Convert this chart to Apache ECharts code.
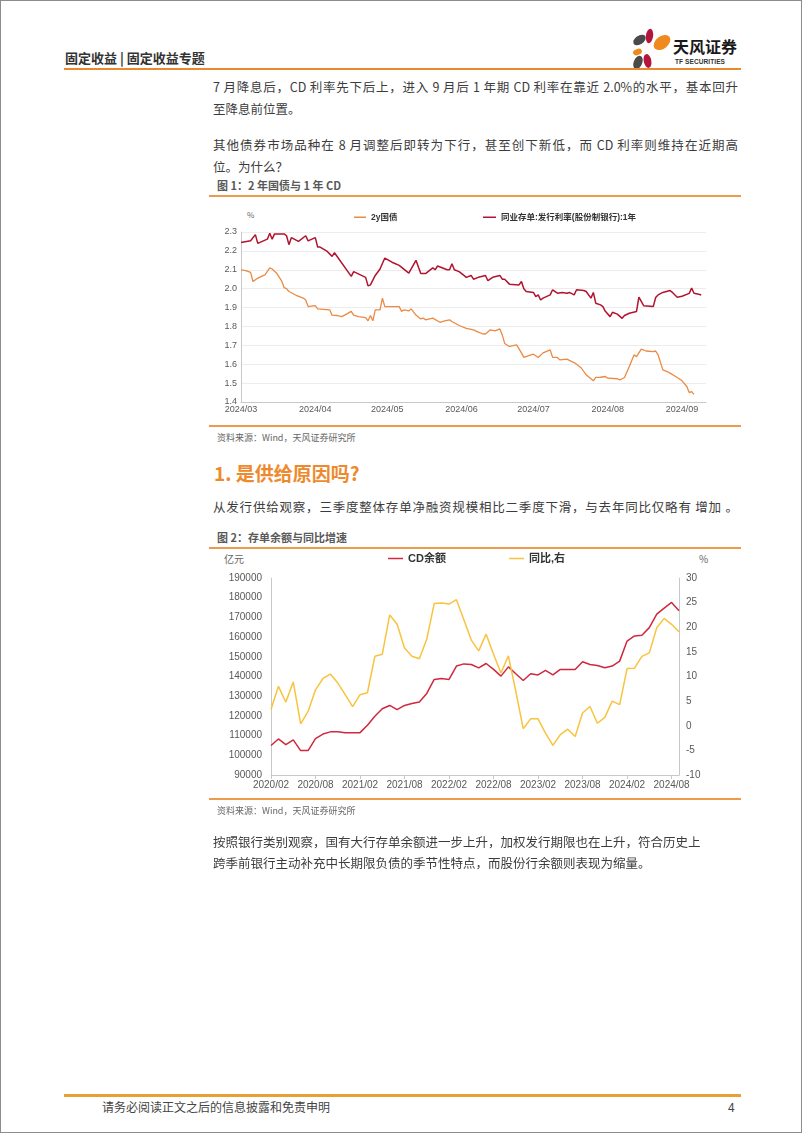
<!DOCTYPE html>
<html><head><meta charset="utf-8">
<script src="https://cdn.jsdelivr.net/npm/echarts@6/dist/echarts.min.js"></script>
<style>
html,body{margin:0;padding:0;background:#fff;}
#page{position:relative;width:802px;height:1133px;box-sizing:border-box;border:1px solid #8c8c8c;overflow:hidden;font-family:"Noto Sans CJK SC","Noto Sans",sans-serif;color:#3c3c3c;background:#fff;}
.t{position:absolute;white-space:nowrap;}
.p{position:absolute;left:212px;width:525px;font-size:12.5px;line-height:22px;text-align:justify;text-align-last:justify;color:#3c3c3c;}
.pl{position:absolute;left:212px;font-size:12.5px;line-height:22px;white-space:nowrap;color:#3c3c3c;}
.hl{position:absolute;background:#E8892B;}
.ft{position:absolute;left:216px;font-size:11px;line-height:16px;font-weight:bold;color:#595959;white-space:nowrap;}
.src{position:absolute;left:216px;font-size:9px;line-height:14px;color:#666;white-space:nowrap;}
#c1{position:absolute;left:200px;top:200px;width:530px;height:220px;}
#c2{position:absolute;left:200px;top:550px;width:530px;height:250px;}
</style></head>
<body>
<div id="page">
  <div class="t" style="left:64px;top:48px;font-size:13px;line-height:18px;font-weight:bold;color:#333;">固定收益 | 固定收益专题</div>
  <svg style="position:absolute;left:628px;top:24px" width="46" height="46" viewBox="0 0 46 46">
    <ellipse cx="10.5" cy="15" rx="7" ry="4.3" fill="#4a4a4a" transform="rotate(-35 10.5 15)"/>
    <ellipse cx="20.5" cy="11" rx="3.6" ry="7.2" fill="#b3163c" transform="rotate(8 20.5 11)"/>
    <ellipse cx="33" cy="17.5" rx="9.5" ry="6.2" fill="#ee8a1f" transform="rotate(-38 33 17.5)"/>
    <ellipse cx="8.5" cy="27" rx="4.6" ry="3" fill="#ee8a1f" transform="rotate(-20 8.5 27)"/>
    <ellipse cx="9" cy="37.5" rx="4.3" ry="7" fill="#4a4a4a" transform="rotate(22 9 37.5)"/>
    <ellipse cx="18.5" cy="36" rx="3.8" ry="7" fill="#b3163c" transform="rotate(-12 18.5 36)"/>
  </svg>
  <div class="t" style="left:672px;top:35px;font-size:16px;line-height:20px;font-weight:bold;color:#1a1a1a;">天风证券</div>
  <div class="t" style="left:674px;top:56px;font-size:6.5px;line-height:9px;font-weight:bold;color:#333;font-family:'Liberation Sans',sans-serif;letter-spacing:0.1px;">TF SECURITIES</div>
  <div class="hl" style="left:63px;top:67px;width:677px;height:2px;"></div>

  <div class="p" style="top:75px;">7 月降息后，CD 利率先下后上，进入 9 月后 1 年期 CD 利率在靠近 2.0%的水平，基本回升</div>
  <div class="pl" style="top:97px;">至降息前位置。</div>
  <div class="p" style="top:133px;">其他债券市场品种在 8 月调整后即转为下行，甚至创下新低，而 CD 利率则维持在近期高</div>
  <div class="pl" style="top:155px;">位。为什么？</div>

  <div class="ft" style="top:176px;">图 1：2 年国债与 1 年 CD</div>
  <div class="hl" style="left:208px;top:194px;width:532px;height:1.5px;background:#EE9A4D;"></div>
  <div class="t" style="left:246px;top:208px;font-size:8px;line-height:12px;color:#666;">%</div>
  <div id="c1"></div>
  <div class="hl" style="left:208px;top:424px;width:532px;height:1.5px;background:#EE9A4D;"></div>
  <div class="src" style="top:430px;">资料来源：Wind，天风证券研究所</div>

  <div class="t" style="left:213px;top:459px;font-size:19px;line-height:26px;font-weight:bold;color:#EE8A2E;">1. 是供给原因吗?</div>
  <div class="p" style="top:495px;">从发行供给观察，三季度整体存单净融资规模相比二季度下滑，与去年同比仅略有 增加 。</div>

  <div class="ft" style="top:528px;">图 2：存单余额与同比增速</div>
  <div class="hl" style="left:208px;top:546px;width:532px;height:1.5px;background:#EE9A4D;"></div>
  <div class="t" style="left:223px;top:551px;font-size:10px;line-height:14px;color:#666;">亿元</div>
  <div class="t" style="left:698px;top:551px;font-size:10px;line-height:14px;color:#666;">%</div>
  <div id="c2"></div>
  <div class="hl" style="left:208px;top:797px;width:532px;height:1.5px;background:#EE9A4D;"></div>
  <div class="src" style="top:803px;">资料来源：Wind，天风证券研究所</div>

  <div class="pl" style="top:830px;">按照银行类别观察，国有大行存单余额进一步上升，加权发行期限也在上升，符合历史上</div>
  <div class="pl" style="top:851px;">跨季前银行主动补充中长期限负债的季节性特点，而股份行余额则表现为缩量。</div>

  <div class="hl" style="left:63px;top:1093px;width:677px;height:2.5px;background:#E8A033;"></div>
  <div class="t" style="left:101px;top:1098px;font-size:12px;line-height:16px;color:#444;">请务必阅读正文之后的信息披露和免责申明</div>
  <div class="t" style="left:727px;top:1098px;font-size:12px;line-height:16px;color:#444;">4</div>
</div>
<script>
// ---------- Figure 1 data ----------
const monthLabels1 = ['2024/03','2024/04','2024/05','2024/06','2024/07','2024/08','2024/09'];
const govDates = ['2024-03-01','2024-03-03','2024-03-05','2024-03-06','2024-03-08','2024-03-10','2024-03-11','2024-03-13','2024-03-14','2024-03-16','2024-03-18','2024-03-19','2024-03-20','2024-03-21','2024-03-24','2024-03-27','2024-03-28','2024-03-29','2024-03-31',
 '2024-04-01','2024-04-02','2024-04-07','2024-04-08','2024-04-10','2024-04-12','2024-04-14','2024-04-16','2024-04-17','2024-04-19','2024-04-22','2024-04-23','2024-04-24','2024-04-25','2024-04-26','2024-04-28','2024-04-29','2024-04-30',
 '2024-05-03','2024-05-06','2024-05-07','2024-05-08','2024-05-10','2024-05-11','2024-05-13','2024-05-15','2024-05-16','2024-05-17','2024-05-20','2024-05-23','2024-05-25','2024-05-27','2024-05-28','2024-05-31',
 '2024-06-03','2024-06-06','2024-06-08','2024-06-10','2024-06-11','2024-06-13','2024-06-15','2024-06-17','2024-06-18','2024-06-19','2024-06-21','2024-06-23','2024-06-24','2024-06-26','2024-06-27','2024-06-30',
 '2024-07-01','2024-07-03','2024-07-05','2024-07-08','2024-07-09','2024-07-11','2024-07-12','2024-07-15','2024-07-17','2024-07-18','2024-07-21','2024-07-23','2024-07-26','2024-07-27','2024-07-29','2024-07-31',
 '2024-08-01','2024-08-05','2024-08-06','2024-08-07','2024-08-08','2024-08-10','2024-08-12','2024-08-13','2024-08-15','2024-08-17','2024-08-20','2024-08-21','2024-08-22','2024-08-24','2024-08-26','2024-08-27','2024-08-30',
 '2024-09-01','2024-09-03','2024-09-04','2024-09-05','2024-09-06'];
const govValues = [2.100,2.095,2.086,2.038,2.056,2.068,2.073,2.110,2.104,2.080,2.040,2.005,2.000,1.985,1.965,1.950,1.940,1.905,1.909,
 1.910,1.893,1.888,1.860,1.858,1.852,1.865,1.880,1.860,1.852,1.847,1.830,1.858,1.830,1.888,1.888,1.950,1.905,
 1.905,1.905,1.880,1.888,1.882,1.893,1.860,1.840,1.844,1.835,1.844,1.822,1.830,1.835,1.826,1.805,
 1.790,1.782,1.770,1.760,1.760,1.782,1.777,1.787,1.755,1.710,1.694,1.700,1.702,1.660,1.636,1.650,
 1.653,1.636,1.660,1.676,1.636,1.636,1.623,1.627,1.614,1.609,1.580,1.544,1.512,1.530,1.531,1.535,
 1.526,1.523,1.517,1.523,1.530,1.588,1.650,1.640,1.680,1.670,1.667,1.670,1.650,1.570,1.560,1.553,1.530,
 1.512,1.482,1.450,1.455,1.440];
const cdDates = ['2024-03-01','2024-03-05','2024-03-07','2024-03-08','2024-03-12','2024-03-13','2024-03-14','2024-03-15','2024-03-19','2024-03-20','2024-03-21','2024-03-22','2024-03-25','2024-03-28','2024-03-29',
 '2024-04-01','2024-04-02','2024-04-03','2024-04-06','2024-04-08','2024-04-09','2024-04-16','2024-04-17','2024-04-22','2024-04-23','2024-04-24','2024-04-26','2024-04-28','2024-04-30',
 '2024-05-03','2024-05-06','2024-05-10','2024-05-13','2024-05-15','2024-05-17','2024-05-20','2024-05-21','2024-05-22','2024-05-26','2024-05-27','2024-05-28','2024-05-29','2024-05-31',
 '2024-06-02','2024-06-03','2024-06-05','2024-06-06','2024-06-08','2024-06-11','2024-06-12','2024-06-14','2024-06-17','2024-06-18','2024-06-19','2024-06-21','2024-06-25','2024-06-26','2024-06-27','2024-06-28',
 '2024-07-01','2024-07-02','2024-07-03','2024-07-04','2024-07-05','2024-07-08','2024-07-09','2024-07-11','2024-07-13','2024-07-15','2024-07-16','2024-07-18','2024-07-19','2024-07-22','2024-07-23','2024-07-25','2024-07-26','2024-07-27','2024-07-29','2024-07-30','2024-07-31',
 '2024-08-02','2024-08-03','2024-08-05','2024-08-07','2024-08-08','2024-08-10','2024-08-13','2024-08-14','2024-08-16','2024-08-20','2024-08-21','2024-08-22','2024-08-24','2024-08-27','2024-08-28','2024-08-30',
 '2024-09-01','2024-09-04','2024-09-05','2024-09-06','2024-09-08','2024-09-09'];
const cdValues = [2.245,2.254,2.286,2.240,2.262,2.293,2.262,2.290,2.290,2.280,2.233,2.270,2.250,2.280,2.253,
 2.270,2.220,2.220,2.197,2.171,2.190,2.065,2.090,2.060,2.015,2.020,2.070,2.104,2.162,
 2.140,2.123,2.082,2.150,2.080,2.080,2.110,2.100,2.120,2.100,2.100,2.132,2.100,2.090,
 2.070,2.060,2.070,2.050,2.060,2.070,2.042,2.060,2.070,2.050,2.050,2.024,2.020,2.038,2.000,1.985,
 1.980,1.958,1.967,1.940,1.950,1.967,1.994,1.976,1.980,1.976,1.980,1.967,1.994,1.990,1.985,1.950,1.980,1.923,1.914,1.905,1.880,
 1.852,1.875,1.865,1.843,1.858,1.870,1.879,1.955,1.910,1.905,1.953,1.967,1.980,1.990,1.980,1.955,
 1.960,1.975,2.003,1.976,1.970,1.967];

// ---------- Figure 2 data ----------
const months2 = ['2020/02','2020/03','2020/04','2020/05','2020/06','2020/07','2020/08','2020/09','2020/10','2020/11','2020/12',
 '2021/01','2021/02','2021/03','2021/04','2021/05','2021/06','2021/07','2021/08','2021/09','2021/10','2021/11','2021/12',
 '2022/01','2022/02','2022/03','2022/04','2022/05','2022/06','2022/07','2022/08','2022/09','2022/10','2022/11','2022/12',
 '2023/01','2023/02','2023/03','2023/04','2023/05','2023/06','2023/07','2023/08','2023/09','2023/10','2023/11','2023/12',
 '2024/01','2024/02','2024/03','2024/04','2024/05','2024/06','2024/07','2024/08','2024/09'];
const cdBalance = [105000,108300,105400,107800,102400,102400,108500,110800,111900,111900,
 111400,111500,111500,115300,119800,123600,125300,123200,125300,126300,
 127100,131400,138500,139000,138500,145300,146400,146100,144400,146600,
 143600,140200,144900,141400,138000,141400,140800,143100,140800,143600,
 143600,143600,147500,146100,145600,144400,145300,147800,158000,160600,
 160900,164800,171700,174700,177600,173400];
const yoyGrowth = [3.3,8.0,4.8,8.9,0.4,2.9,7.3,9.6,10.5,8.7,
 6.3,3.9,6.3,6.7,14.1,14.5,22.5,20.6,15.8,14.1,
 13.6,17.6,24.8,24.9,24.7,25.6,21.5,17.4,15.2,18.6,
 14.5,10.7,14.2,7.0,-0.6,1.4,1.4,-1.5,-4.0,-1.8,
 -0.7,-2.2,2.6,3.9,0.5,1.7,5.0,4.3,11.6,11.7,
 14.1,14.8,19.9,21.8,20.6,19.1];

const FONT = "'Liberation Sans', 'Noto Sans CJK SC', sans-serif";
const parseDay = s => { const [y, m, d] = s.split('-').map(Number); return new Date(y, m - 1, d).getTime(); };
const parseMonth = s => { const [y, m] = s.split('/').map(Number); return new Date(y, m - 1, 1).getTime(); };
const fmtMonth = v => { const d = new Date(v); return d.getFullYear() + '/' + String(d.getMonth() + 1).padStart(2, '0'); };
const monthTicks1 = monthLabels1.map(parseMonth);

const c1 = echarts.init(document.getElementById('c1'), null, {renderer: 'canvas'});
c1.setOption({
  animation: false,
  textStyle: {fontFamily: FONT},
  grid: {left: 40, right: 25, top: 31, bottom: 19, outerBoundsMode: 'none'},
  legend: [
    {data: ['2y国债'], left: 153, top: 12, icon: 'rect', itemWidth: 12, itemHeight: 1.5, selectedMode: false,
     textStyle: {fontSize: 8.5, fontWeight: 'bold', color: '#333', fontFamily: FONT}, padding: 0},
    {data: ['同业存单:发行利率(股份制银行):1年'], left: 282, top: 12, icon: 'rect', itemWidth: 13, itemHeight: 1.5, selectedMode: false,
     textStyle: {fontSize: 8.5, fontWeight: 'bold', color: '#333', fontFamily: FONT}, padding: 0}
  ],
  xAxis: {
    type: 'value', min: new Date(2024, 2, 1).getTime(), max: new Date(2024, 8, 11).getTime(),
    axisLine: {show: true, onZero: false, lineStyle: {color: '#c8c8c8'}}, axisTick: {show: false}, splitLine: {show: false},
    axisLabel: {customValues: monthTicks1, formatter: fmtMonth, fontSize: 9, color: '#595959', margin: 3}
  },
  yAxis: {
    type: 'value', min: 1.4, max: 2.3, interval: 0.1,
    axisLine: {show: true, lineStyle: {color: '#c8c8c8'}}, axisTick: {show: false},
    splitLine: {lineStyle: {color: '#ececec', width: 1}},
    axisLabel: {formatter: v => v.toFixed(1), fontSize: 9, color: '#595959', margin: 4}
  },
  series: [
    {name: '2y国债', type: 'line', showSymbol: false, symbol: 'none', color: '#EB8A43', lineStyle: {width: 1.3, color: '#EB8A43'},
     data: govDates.map((d, i) => [parseDay(d), govValues[i]])},
    {name: '同业存单:发行利率(股份制银行):1年', type: 'line', showSymbol: false, symbol: 'none', color: '#B2132E', lineStyle: {width: 1.5, color: '#B2132E'},
     data: cdDates.map((d, i) => [parseDay(d), cdValues[i]])}
  ]
});

const c2 = echarts.init(document.getElementById('c2'), null, {renderer: 'canvas'});
c2.setOption({
  animation: false,
  textStyle: {fontFamily: FONT},
  grid: {left: 70, right: 52, top: 27, bottom: 26, outerBoundsMode: 'none'},
  legend: [
    {data: ['CD余额'], left: 187, top: 2, icon: 'rect', itemWidth: 15, itemHeight: 1.5, selectedMode: false,
     textStyle: {fontSize: 11, fontWeight: 'bold', color: '#333', fontFamily: FONT}, padding: 0},
    {data: ['同比,右'], left: 308, top: 2, icon: 'rect', itemWidth: 15, itemHeight: 1.5, selectedMode: false,
     textStyle: {fontSize: 11, fontWeight: 'bold', color: '#333', fontFamily: FONT}, padding: 0}
  ],
  xAxis: {
    type: 'category', data: months2, boundaryGap: false,
    axisLine: {onZero: false, lineStyle: {color: '#c8c8c8'}},
    axisTick: {show: true, interval: 5, length: 4, lineStyle: {color: '#c8c8c8'}},
    axisLabel: {interval: 5, fontSize: 10, color: '#595959', margin: 5}
  },
  yAxis: [
    {type: 'value', min: 90000, max: 190000, interval: 10000,
     axisLine: {show: true, lineStyle: {color: '#c8c8c8'}}, axisTick: {show: false}, splitLine: {show: false},
     axisLabel: {formatter: v => String(v), fontSize: 10, color: '#595959', margin: 9}},
    {type: 'value', min: -10, max: 30, interval: 5, position: 'right',
     axisLine: {show: true, lineStyle: {color: '#c8c8c8'}}, axisTick: {show: false}, splitLine: {show: false},
     axisLabel: {formatter: v => String(v), fontSize: 10, color: '#595959', margin: 7}}
  ],
  series: [
    {name: 'CD余额', type: 'line', showSymbol: false, symbol: 'none', color: '#D0283E', lineStyle: {width: 1.5, color: '#D0283E'},
     data: cdBalance, yAxisIndex: 0},
    {name: '同比,右', type: 'line', showSymbol: false, symbol: 'none', color: '#F8C33F', lineStyle: {width: 1.5, color: '#F8C33F'},
     data: yoyGrowth, yAxisIndex: 1}
  ]
});
</script>
</body></html>
